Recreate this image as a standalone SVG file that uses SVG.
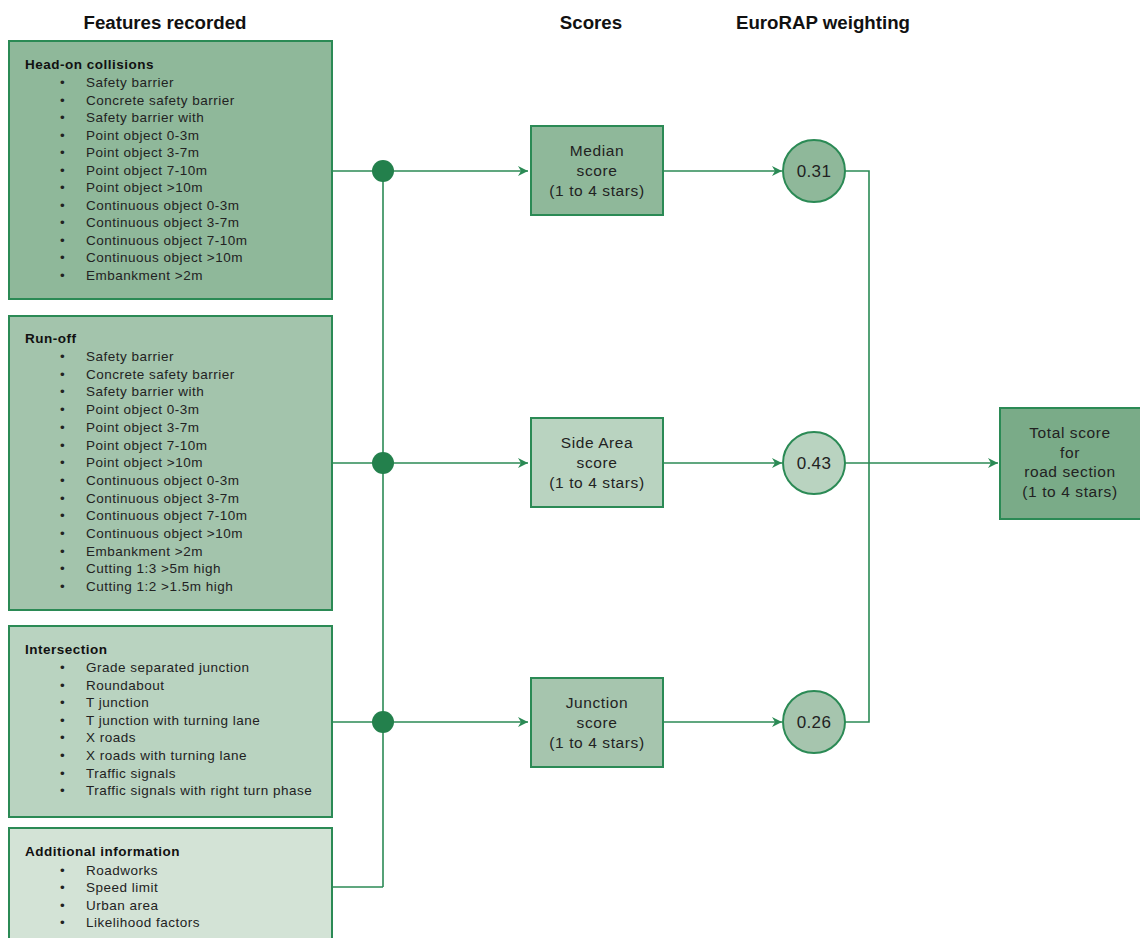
<svg xmlns="http://www.w3.org/2000/svg" width="1140" height="938" viewBox="0 0 1140 938">
<defs>
<style>
.box{stroke:#2b8a55;stroke-width:2}
.ln{fill:none;stroke:#2b8a55;stroke-width:1.6}
.h{font-family:"Liberation Sans",Arial,sans-serif;font-weight:bold;font-size:18.7px;fill:#111;text-anchor:middle}
.hd{font-family:"Liberation Sans",Arial,sans-serif;font-weight:bold;font-size:13.5px;letter-spacing:0.5px;fill:#111}
.it{font-family:"Liberation Sans",Arial,sans-serif;font-size:13.5px;letter-spacing:0.5px;fill:#222}
.c{font-family:"Liberation Sans",Arial,sans-serif;font-size:15.5px;letter-spacing:0.6px;fill:#222;text-anchor:middle}
.n{font-family:"Liberation Sans",Arial,sans-serif;font-size:17px;letter-spacing:0.3px;fill:#222;text-anchor:middle}
.dot{fill:#23804c}
</style>
<marker id="ar" viewBox="0 0 10 10" refX="10" refY="5" markerWidth="10" markerHeight="10" markerUnits="userSpaceOnUse" orient="auto">
<path d="M0,0 L10,5 L0,10 L3,5 Z" fill="#2b8a55"/>
</marker>
</defs>
<rect width="1140" height="938" fill="#fff"/>
<text class="h" x="165" y="29">Features recorded</text>
<text class="h" x="591" y="29">Scores</text>
<text class="h" x="823" y="29">EuroRAP weighting</text>

<g id="connectors">
<line class="ln" x1="383" y1="171" x2="383" y2="887"/>
<line class="ln" x1="332" y1="171" x2="528" y2="171" marker-end="url(#ar)"/>
<line class="ln" x1="332" y1="463" x2="528" y2="463" marker-end="url(#ar)"/>
<line class="ln" x1="332" y1="722" x2="528" y2="722" marker-end="url(#ar)"/>
<line class="ln" x1="332" y1="887" x2="383" y2="887"/>
<circle class="dot" cx="383" cy="171" r="11"/>
<circle class="dot" cx="383" cy="463" r="11"/>
<circle class="dot" cx="383" cy="722" r="11"/>
<line class="ln" x1="663" y1="171" x2="782" y2="171" marker-end="url(#ar)"/>
<line class="ln" x1="663" y1="463" x2="782" y2="463" marker-end="url(#ar)"/>
<line class="ln" x1="663" y1="722" x2="782" y2="722" marker-end="url(#ar)"/>
<polyline class="ln" points="845,171 869,171 869,722 845,722"/>
<line class="ln" x1="845" y1="463" x2="998" y2="463" marker-end="url(#ar)"/>
</g>

<g id="head-on">
<rect class="box" x="9" y="41" width="323" height="258" fill="#8fb89a"/>
<text class="hd" x="25" y="69">Head-on collisions</text>
<g class="it">
<text x="60" y="87">•</text><text x="86" y="87">Safety barrier</text>
<text x="60" y="104.5">•</text><text x="86" y="104.5">Concrete safety barrier</text>
<text x="60" y="122">•</text><text x="86" y="122">Safety barrier with</text>
<text x="60" y="139.5">•</text><text x="86" y="139.5">Point object 0-3m</text>
<text x="60" y="157">•</text><text x="86" y="157">Point object 3-7m</text>
<text x="60" y="174.5">•</text><text x="86" y="174.5">Point object 7-10m</text>
<text x="60" y="192">•</text><text x="86" y="192">Point object &gt;10m</text>
<text x="60" y="209.5">•</text><text x="86" y="209.5">Continuous object 0-3m</text>
<text x="60" y="227">•</text><text x="86" y="227">Continuous object 3-7m</text>
<text x="60" y="244.5">•</text><text x="86" y="244.5">Continuous object 7-10m</text>
<text x="60" y="262">•</text><text x="86" y="262">Continuous object &gt;10m</text>
<text x="60" y="279.5">•</text><text x="86" y="279.5">Embankment &gt;2m</text>
</g>
</g>

<g id="run-off">
<rect class="box" x="9" y="316" width="323" height="294" fill="#a3c4ac"/>
<text class="hd" x="25" y="343">Run-off</text>
<g class="it">
<text x="60" y="361">•</text><text x="86" y="361">Safety barrier</text>
<text x="60" y="378.7">•</text><text x="86" y="378.7">Concrete safety barrier</text>
<text x="60" y="396.4">•</text><text x="86" y="396.4">Safety barrier with</text>
<text x="60" y="414.1">•</text><text x="86" y="414.1">Point object 0-3m</text>
<text x="60" y="431.8">•</text><text x="86" y="431.8">Point object 3-7m</text>
<text x="60" y="449.5">•</text><text x="86" y="449.5">Point object 7-10m</text>
<text x="60" y="467.2">•</text><text x="86" y="467.2">Point object &gt;10m</text>
<text x="60" y="484.9">•</text><text x="86" y="484.9">Continuous object 0-3m</text>
<text x="60" y="502.6">•</text><text x="86" y="502.6">Continuous object 3-7m</text>
<text x="60" y="520.3">•</text><text x="86" y="520.3">Continuous object 7-10m</text>
<text x="60" y="538">•</text><text x="86" y="538">Continuous object &gt;10m</text>
<text x="60" y="555.7">•</text><text x="86" y="555.7">Embankment &gt;2m</text>
<text x="60" y="573.4">•</text><text x="86" y="573.4">Cutting 1:3 &gt;5m high</text>
<text x="60" y="591.1">•</text><text x="86" y="591.1">Cutting 1:2 &gt;1.5m high</text>
</g>
</g>

<g id="intersection">
<rect class="box" x="9" y="626" width="323" height="191" fill="#b9d3c0"/>
<text class="hd" x="25" y="654">Intersection</text>
<g class="it">
<text x="60" y="672">•</text><text x="86" y="672">Grade separated junction</text>
<text x="60" y="689.6">•</text><text x="86" y="689.6">Roundabout</text>
<text x="60" y="707.2">•</text><text x="86" y="707.2">T junction</text>
<text x="60" y="724.8">•</text><text x="86" y="724.8">T junction with turning lane</text>
<text x="60" y="742.4">•</text><text x="86" y="742.4">X roads</text>
<text x="60" y="760">•</text><text x="86" y="760">X roads with turning lane</text>
<text x="60" y="777.6">•</text><text x="86" y="777.6">Traffic signals</text>
<text x="60" y="795.2">•</text><text x="86" y="795.2">Traffic signals with right turn phase</text>
</g>
</g>

<g id="additional">
<rect class="box" x="9" y="828" width="323" height="120" fill="#d3e3d6"/>
<text class="hd" x="25" y="856">Additional information</text>
<g class="it">
<text x="60" y="874.5">•</text><text x="86" y="874.5">Roadworks</text>
<text x="60" y="892">•</text><text x="86" y="892">Speed limit</text>
<text x="60" y="909.5">•</text><text x="86" y="909.5">Urban area</text>
<text x="60" y="927">•</text><text x="86" y="927">Likelihood factors</text>
</g>
</g>

<g id="median-score">
<rect class="box" x="531" y="126" width="132" height="89" fill="#8fb89a"/>
<text class="c" x="597" y="156">Median</text>
<text class="c" x="597" y="176">score</text>
<text class="c" x="597" y="196">(1 to 4 stars)</text>
</g>
<g id="side-area-score">
<rect class="box" x="531" y="418" width="132" height="89" fill="#b9d3c0"/>
<text class="c" x="597" y="448">Side Area</text>
<text class="c" x="597" y="468">score</text>
<text class="c" x="597" y="488">(1 to 4 stars)</text>
</g>
<g id="junction-score">
<rect class="box" x="531" y="678" width="132" height="89" fill="#a6c5ae"/>
<text class="c" x="597" y="708">Junction</text>
<text class="c" x="597" y="728">score</text>
<text class="c" x="597" y="748">(1 to 4 stars)</text>
</g>

<g id="w031">
<circle class="box" cx="814" cy="171" r="31" fill="#8fb89a"/>
<text class="n" x="814" y="177">0.31</text>
</g>
<g id="w043">
<circle class="box" cx="814" cy="463" r="31" fill="#b9d3c0"/>
<text class="n" x="814" y="469">0.43</text>
</g>
<g id="w026">
<circle class="box" cx="814" cy="722" r="31" fill="#a6c5ae"/>
<text class="n" x="814" y="728">0.26</text>
</g>

<g id="total">
<rect class="box" x="1000" y="408" width="145" height="111" fill="#7aab88"/>
<text class="c" x="1070" y="438">Total score</text>
<text class="c" x="1070" y="458">for</text>
<text class="c" x="1070" y="477">road section</text>
<text class="c" x="1070" y="497">(1 to 4 stars)</text>
</g>
</svg>
